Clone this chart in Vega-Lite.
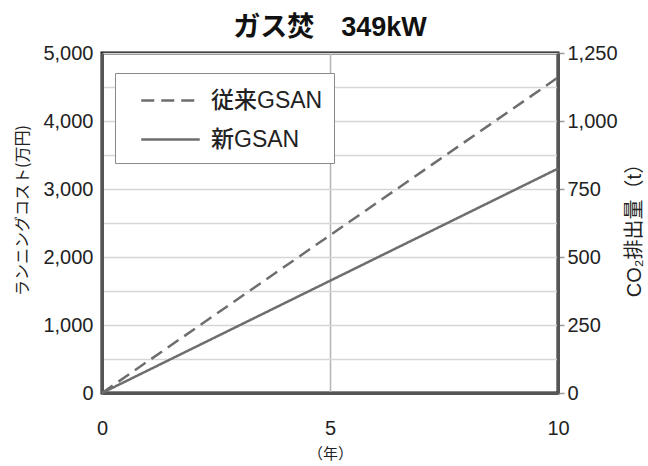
{
  "$schema": "https://vega.github.io/schema/vega-lite/v6.json",
  "width": 456,
  "height": 340,
  "autosize": {"type": "none"},
  "padding": {"left": 102, "top": 53, "right": 90, "bottom": 73},
  "background": "white",
  "title": {
    "text": "ガス焚　349kW",
    "font": "Liberation Sans, Noto Sans CJK JP",
    "fontSize": 27,
    "fontWeight": "bold",
    "color": "#111",
    "anchor": "middle",
    "offset": 1
  },
  "config": {
    "view": {"stroke": "#111", "strokeWidth": 3},
    "axis": {
      "labelFont": "Liberation Sans",
      "labelFontSize": 20,
      "labelColor": "#222",
      "labelFlush": false,
      "titleFont": "Noto Sans CJK JP",
      "titleFontWeight": "normal",
      "titleColor": "#222"
    }
  },
  "data": {
    "values": [
      {"year": 0, "cost": 0, "series": "従来GSAN"},
      {"year": 10, "cost": 4640, "series": "従来GSAN"},
      {"year": 0, "cost": 0, "series": "新GSAN"},
      {"year": 10, "cost": 3300, "series": "新GSAN"}
    ]
  },
  "layer": [
    {
      "mark": {"type": "line", "color": "#6e6e6e", "strokeWidth": 2.5},
      "encoding": {
        "x": {
          "field": "year",
          "type": "quantitative",
          "scale": {"domain": [0, 10], "nice": false},
          "axis": {
            "values": [0, 5, 10],
            "grid": true,
            "gridColor": "#b4b4b4",
            "gridWidth": 1.5,
            "domainColor": "#555",
            "domainWidth": 3,
            "ticks": false,
            "tickSize": 0,
            "labelPadding": 25,
            "title": "（年）",
            "titleFontSize": 15,
            "titlePadding": 8
          }
        },
        "y": {
          "field": "cost",
          "type": "quantitative",
          "scale": {"domain": [0, 5000], "nice": false},
          "axis": {
            "values": [0, 500, 1000, 1500, 2000, 2500, 3000, 3500, 4000, 4500, 5000],
            "labelExpr": "datum.value % 1000 === 0 ? format(datum.value, ',') : ''",
            "grid": true,
            "gridColor": "#d6d6d6",
            "gridWidth": 1.5,
            "domainColor": "#555",
            "domainWidth": 3,
            "ticks": false,
            "tickSize": 0,
            "labelPadding": 9,
            "title": "ランニングコスト(万円)",
            "titleFontSize": 16,
            "titleAngle": -90,
            "titleX": -80,
            "titleY": 157,
            "titleAlign": "center",
            "titleBaseline": "middle"
          }
        },
        "strokeDash": {
          "field": "series",
          "type": "nominal",
          "scale": {"domain": ["従来GSAN", "新GSAN"], "range": [[13, 7], [1, 0]]},
          "legend": {
            "title": null,
            "orient": "none",
            "legendX": 13,
            "legendY": 20,
            "direction": "vertical",
            "fillColor": "white",
            "strokeColor": "#8a8a8a",
            "padding": 11,
            "symbolOffset": 28,
            "symbolType": "M-1.95,0H1.95",
            "symbolSize": 900,
            "symbolStrokeColor": "#6e6e6e",
            "symbolStrokeWidth": 2.5,
            "labelFont": "Liberation Sans, Noto Sans CJK JP",
            "labelFontSize": 23,
            "labelFontWeight": 500,
            "labelColor": "#222",
            "labelOffset": 24,
            "rowPadding": 10
          }
        }
      }
    },
    {
      "mark": {"type": "line", "opacity": 0},
      "encoding": {
        "x": {"field": "year", "type": "quantitative"},
        "y": {
          "field": "cost",
          "type": "quantitative",
          "axis": {
            "orient": "right",
            "values": [0, 1000, 2000, 3000, 4000, 5000],
            "labelExpr": "format(datum.value / 4, ',')",
            "grid": false,
            "domainColor": "#555",
            "domainWidth": 3,
            "ticks": true,
            "tickSize": 6,
            "tickColor": "#9a9a9a",
            "tickWidth": 1.5,
            "labelPadding": 3,
            "title": "CO₂排出量（t）",
            "titleFont": "Liberation Sans, Noto Sans CJK JP",
            "titleFontSize": 20,
            "titleAngle": -90,
            "titleX": 76,
            "titleY": 172,
            "titleAlign": "center",
            "titleBaseline": "middle"
          }
        },
        "detail": {"field": "series"}
      }
    }
  ],
  "resolve": {"axis": {"y": "independent"}}
}
